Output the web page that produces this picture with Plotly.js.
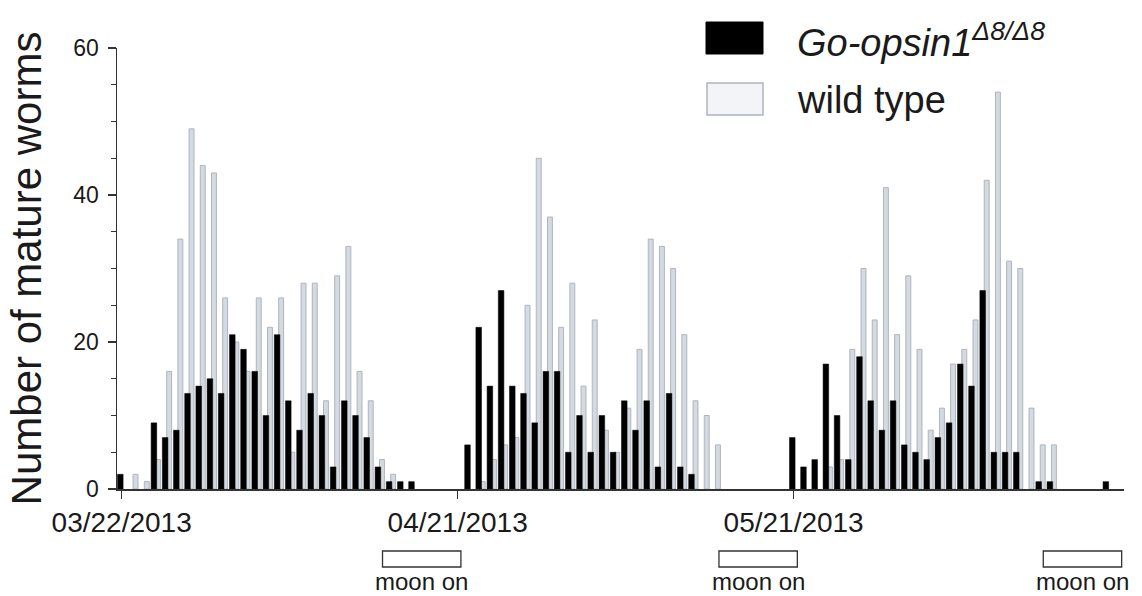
<!DOCTYPE html>
<html>
<head>
<meta charset="utf-8">
<script src="https://cdn.plot.ly/plotly-3.0.1.min.js"></script>
<style>
  html, body { margin: 0; padding: 0; background: #ffffff; }
  #chart { width: 1142px; height: 596px; }
</style>
</head>
<body>
<div id="chart"></div>
<script>
// Daily counts of mature worms, starting 03/22/2013 (one value per day)
const startDate = '2013-03-22';

const mutantCounts = [
  2, 0, 0, 9, 7, 8, 13, 14, 15, 13,
  21, 19, 16, 10, 21, 12, 8, 13, 10, 3,
  12, 10, 7, 3, 1, 1, 1, 0, 0, 0,
  0, 6, 22, 14, 27, 14, 13, 9, 16, 16,
  5, 10, 5, 10, 5, 12, 8, 12, 3, 13,
  3, 2, 0, 0, 0, 0, 0, 0, 0, 0,
  7, 3, 4, 17, 10, 4, 18, 12, 8, 12,
  6, 5, 4, 7, 9, 17, 14, 27, 5, 5,
  5, 0, 1, 1, 0, 0, 0, 0, 1
];

const wildTypeCounts = [
  0, 2, 1, 4, 16, 34, 49, 44, 43, 26,
  20, 16, 26, 22, 26, 5, 28, 28, 12, 29,
  33, 16, 12, 4, 2, 0, 0, 0, 0, 0,
  0, 0, 1, 4, 6, 7, 25, 45, 37, 22,
  28, 14, 23, 8, 5, 11, 19, 34, 33, 30,
  21, 12, 10, 6, 0, 0, 0, 0, 0, 0,
  0, 0, 0, 3, 4, 19, 30, 23, 41, 21,
  29, 19, 8, 11, 17, 19, 23, 42, 54, 31,
  30, 11, 6, 6, 0, 0, 0, 0, 0
];

// Labelled dates on the time axis
const tickDates = ['2013-03-22', '2013-04-21', '2013-05-21'];
const tickLabels = ['03/22/2013', '04/21/2013', '05/21/2013'];

// Periods with moonlight switched on
const moonStart = ['2013-04-14 07:00', '2013-05-14 08:00', '2013-06-12 07:00'];
const moonEnd   = ['2013-04-21 07:00', '2013-05-21 08:00', '2013-06-19 07:00'];

const seriesNames = ['<i>Go-opsin1<sup>Δ8/Δ8</sup></i>', 'wild type'];

// Build the day-by-day date list
const DAY = 86400000;
function dayString(i) {
  const d = new Date(Date.parse(startDate + 'T00:00:00Z') + i * DAY);
  return d.toISOString().slice(0, 10);
}
const dates = mutantCounts.map((_, i) => dayString(i));

const FONT = 'Liberation Sans, Arial, Helvetica, sans-serif';
const INK = '#1a1a1a';
const GREY_FILL = '#d5d9e0';
const GREY_LINE = '#aeb4be';

const traces = [
  {
    type: 'bar',
    name: seriesNames[1],
    x: dates,
    y: wildTypeCounts.map(v => (v === 0 ? null : v)),
    width: 0.44 * DAY,
    offset: 0.02 * DAY,
    marker: { color: GREY_FILL, line: { color: GREY_LINE, width: 1 } },
    showlegend: false,
    hoverinfo: 'x+y'
  },
  {
    type: 'bar',
    name: seriesNames[0],
    x: dates,
    y: mutantCounts.map(v => (v === 0 ? null : v)),
    width: 0.5 * DAY,
    offset: -0.37 * DAY,
    marker: { color: '#000000', line: { color: '#000000', width: 0.5 } },
    showlegend: false,
    hoverinfo: 'x+y'
  }
];

// Plot area in pixels, used to place the legend and moon boxes in paper units
const L = 117, R = 18, T = 48, B = 107;
const W = 1142 - L - R, H = 596 - T - B;
const px = x => (x - L) / W;
const py = y => (596 - B - y) / H;

const shapes = [];
const annotations = [];

// Legend swatches and labels
shapes.push({
  type: 'rect', xref: 'paper', yref: 'paper',
  x0: px(706), x1: px(763), y0: py(54), y1: py(22),
  fillcolor: '#000000', line: { color: '#000000', width: 1 }
});
shapes.push({
  type: 'rect', xref: 'paper', yref: 'paper',
  x0: px(707), x1: px(763), y0: py(115), y1: py(83),
  fillcolor: '#f3f4f7', line: { color: GREY_LINE, width: 1.5 }
});
annotations.push({
  xref: 'paper', yref: 'paper', x: px(795), y: py(40),
  xanchor: 'left', yanchor: 'middle', showarrow: false,
  text: seriesNames[0], font: { family: FONT, size: 38, color: INK }
});
annotations.push({
  xref: 'paper', yref: 'paper', x: px(795), y: py(100),
  xanchor: 'left', yanchor: 'middle', showarrow: false,
  text: seriesNames[1], font: { family: FONT, size: 38, color: INK }
});

// Moon-on boxes beneath the time axis
moonStart.forEach((s, i) => {
  shapes.push({
    type: 'rect', xref: 'x', yref: 'paper',
    x0: s, x1: moonEnd[i], y0: py(567), y1: py(551),
    fillcolor: '#ffffff', line: { color: '#333333', width: 1.3 }
  });
  const mid = new Date((Date.parse(s.replace(' ', 'T') + 'Z') + Date.parse(moonEnd[i].replace(' ', 'T') + 'Z')) / 2);
  annotations.push({
    xref: 'x', yref: 'paper',
    x: mid.toISOString().slice(0, 19).replace('T', ' '),
    y: py(581), xanchor: 'center', yanchor: 'middle', showarrow: false,
    text: 'moon on', font: { family: FONT, size: 24, color: INK }
  });
});

const layout = {
  width: 1142, height: 596,
  margin: { l: L, r: R, t: T, b: B, pad: 0 },
  paper_bgcolor: '#ffffff', plot_bgcolor: '#ffffff',
  barmode: 'overlay',
  showlegend: false,
  font: { family: FONT, color: INK },
  xaxis: {
    type: 'date',
    range: ['2013-03-21 14:00', '2013-06-19 12:00'],
    tickmode: 'array', tickvals: tickDates, ticktext: tickLabels,
    ticks: 'outside', ticklen: 8, tickwidth: 1.5, tickcolor: '#333333',
    showline: true, linecolor: '#333333', linewidth: 1.5,
    showgrid: false, zeroline: false,
    tickfont: { family: FONT, size: 28, color: INK },
    fixedrange: true
  },
  yaxis: {
    range: [0, 60],
    tickmode: 'array', tickvals: [0, 20, 40, 60],
    ticks: 'outside', ticklen: 8, tickwidth: 1.5, tickcolor: '#333333',
    minor: { tickmode: 'linear', tick0: 0, dtick: 5, ticks: 'outside', ticklen: 5, tickwidth: 1.2, tickcolor: '#333333', showgrid: false },
    showline: true, linecolor: '#333333', linewidth: 1.5,
    showgrid: false, zeroline: false,
    ticklabelstandoff: 4,
    tickfont: { family: FONT, size: 23, color: INK },
    title: { text: 'Number of mature worms', font: { family: FONT, size: 42, color: INK }, standoff: 18 },
    fixedrange: true
  },
  shapes: shapes,
  annotations: annotations
};

Plotly.newPlot('chart', traces, layout, { displayModeBar: false, staticPlot: true });
</script>
</body>
</html>
